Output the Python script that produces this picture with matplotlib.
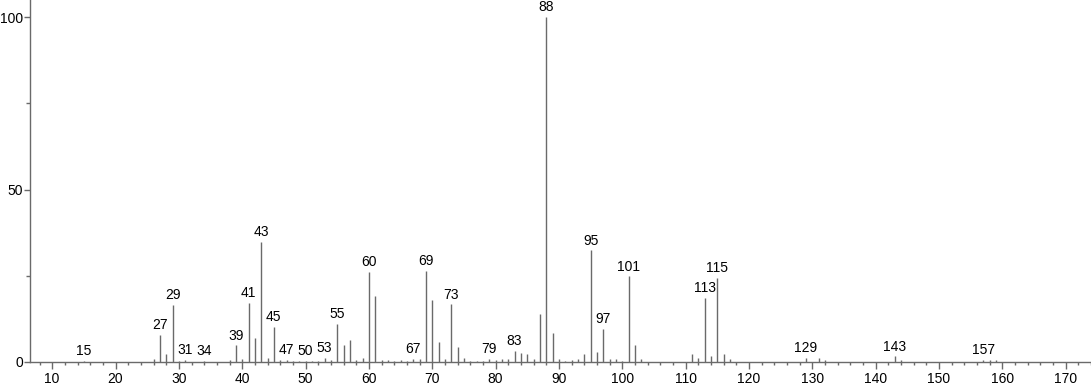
import numpy as np
import matplotlib.pyplot as plt
from matplotlib.ticker import MultipleLocator

# === Massenspektrum: m/z und relative Intensitaet ===
mz = [15, 26, 27, 28, 29, 30, 31, 34, 38, 39, 40, 41, 42, 43, 44, 45, 46, 47,
      48, 49, 50, 51, 52, 53, 54, 55, 56, 57, 58, 59, 60, 61, 62, 63, 64, 65,
      66, 67, 68, 69, 70, 71, 72, 73, 74, 75, 76, 77, 78, 79, 80, 81, 82, 83,
      84, 85, 86, 87, 88, 89, 90, 91, 92, 93, 94, 95, 96, 97, 98, 99, 100,
      101, 102, 103, 111, 112, 113, 114, 115, 116, 117, 129, 131, 132, 143,
      144, 157, 158, 159]
intensity = [0.3, 0.8, 7.9, 2.2, 16.6, 0.3, 0.6, 0.3, 0.7, 4.8, 1.0, 17.2, 7.1,
             34.8, 1.2, 10.2, 0.5, 0.5, 0.3, 0.3, 0.3, 0.3, 0.3, 1.1, 0.5, 11.1,
             5.0, 6.4, 0.7, 1.3, 26.2, 19.0, 0.7, 0.6, 0.3, 0.5, 0.3, 1.0, 1.0,
             26.4, 17.9, 5.9, 0.8, 16.7, 4.3, 1.3, 0.3, 0.3, 0.3, 0.8, 0.5, 0.8,
             0.8, 3.2, 2.5, 2.3, 0.8, 14.0, 100.0, 8.3, 1.0, 0.3, 0.5, 0.8, 2.2,
             32.4, 3.0, 9.7, 0.8, 0.8, 0.3, 24.8, 5.0, 0.8, 2.2, 1.3, 18.7, 1.8,
             24.4, 2.2, 0.8, 1.2, 1.2, 0.7, 1.6, 0.5, 0.7, 0.7, 0.6]
labeled = [15, 27, 29, 31, 34, 39, 41, 43, 45, 47, 50, 53, 55, 60, 67, 69, 73,
           79, 83, 88, 95, 97, 101, 113, 115, 129, 143, 157]

plt.rcParams['font.family'] = ['Liberation Sans', 'DejaVu Sans']
grau = '#6a6a6a'

fig = plt.figure(figsize=(10.91, 3.87), dpi=100)
ax = fig.add_axes([0.0275, 0.0646, 0.9725, 0.9354])

ax.vlines(mz, 0, intensity, color=grau, linewidth=1.0)

lookup = dict(zip(mz, intensity))
for m in labeled:
    h = lookup.get(m, 0)
    ax.annotate(str(m), (m, h), xytext=(0, 2), textcoords='offset points',
                ha='center', va='bottom', fontsize=10, color='black')

ax.set_xlim(6.5, 174)
ax.set_ylim(0, 105)

ax.xaxis.set_major_locator(MultipleLocator(10))
ax.xaxis.set_minor_locator(MultipleLocator(2))
ax.set_yticks([0, 50, 100])
ax.set_yticks([25, 75], minor=True)

ax.tick_params(axis='x', which='major', length=5, width=1, color=grau, pad=2, labelsize=10)
ax.tick_params(axis='x', which='minor', length=2.5, width=1, color=grau)
ax.tick_params(axis='y', which='major', length=4, width=1, color=grau, pad=1, labelsize=10)
ax.tick_params(axis='y', which='minor', length=3, width=1, color=grau)

for s in ['top', 'right']:
    ax.spines[s].set_visible(False)
for s in ['left', 'bottom']:
    ax.spines[s].set_color(grau)
    ax.spines[s].set_linewidth(1.0)

plt.savefig('out.png', dpi=100)
plt.close()
